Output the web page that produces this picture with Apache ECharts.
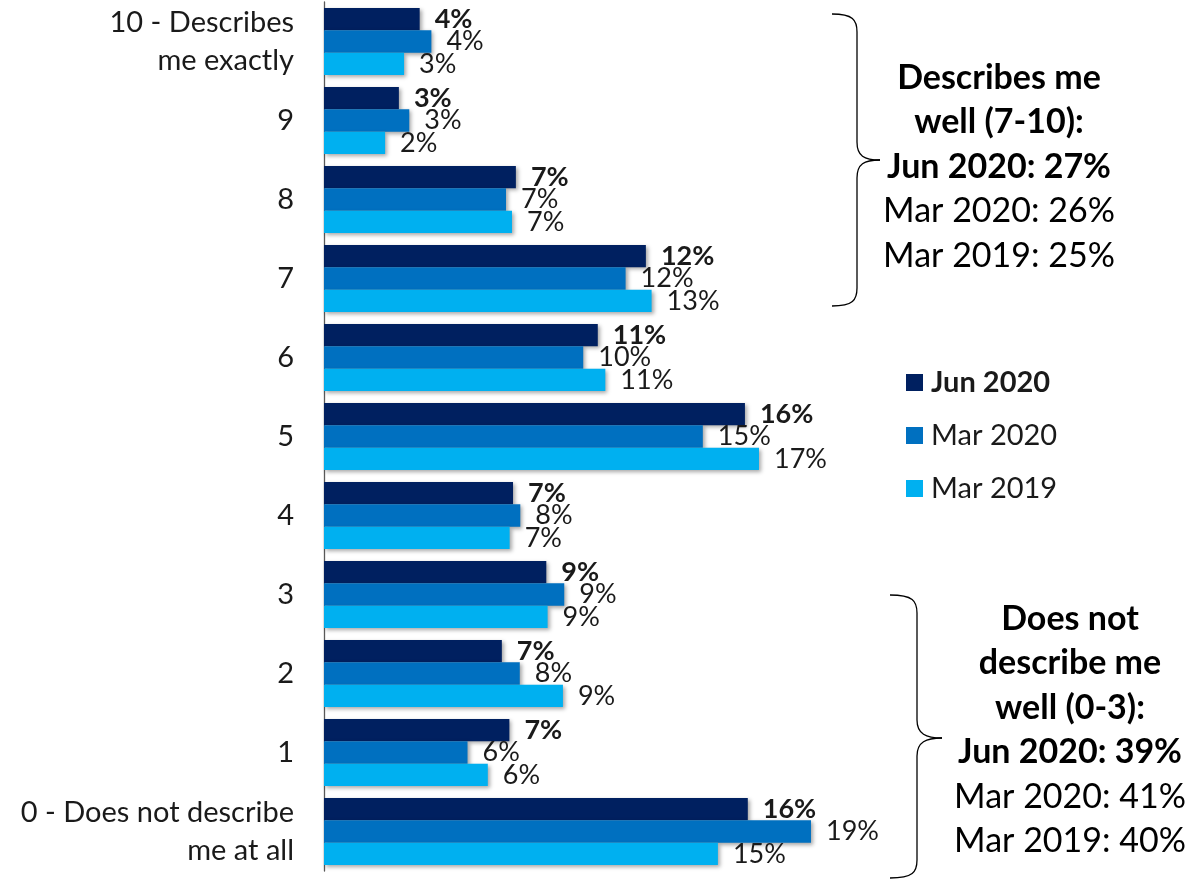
<!DOCTYPE html>
<html>
<head>
<meta charset="utf-8">
<script src="https://cdn.jsdelivr.net/npm/echarts@6/dist/echarts.min.js"></script>
<style>
html,body{margin:0;padding:0;background:#fff;}
#chart{width:1196px;height:881px;}
</style>
</head>
<body>
<div id="chart"></div>
<script>
// categories, top to bottom
const categories = ['10 - Describes\nme exactly','9','8','7','6','5','4','3','2','1','0 - Does not describe\nme at all'];
const seriesNames = ['Jun 2020','Mar 2020','Mar 2019'];
const jun2020 = [3.68, 2.88, 7.38, 12.38, 10.53, 16.19, 7.27, 8.55, 6.84, 7.13, 16.30];
const mar2020 = [4.13, 3.28, 7.00, 11.60, 9.97, 14.57, 7.55, 9.24, 7.53, 5.52, 18.73];
const mar2019 = [3.08, 2.35, 7.23, 12.60, 10.82, 16.73, 7.14, 8.60, 9.19, 6.30, 15.15];
const colors = ['#002060','#0070C0','#00B0F0'];
const topNoteLines = ['Describes me','well (7-10):','Jun 2020: 27%','Mar 2020: 26%','Mar 2019: 25%'];
const bottomNoteLines = ['Does not','describe me','well (0-3):','Jun 2020: 39%','Mar 2020: 41%','Mar 2019: 40%'];
const boldTopCount = 3, boldBottomCount = 4;

const FONT = 'Lato, "Open Sans", sans-serif';
const chart = echarts.init(document.getElementById('chart'));

function mkSeries(name, data, color, bold){
  return {
    name, type:'bar', data,
    barCategoryGap:'15%', barGap:'0%',
    itemStyle:{color, shadowColor:'rgba(0,0,0,0.35)', shadowBlur:4, shadowOffsetX:2, shadowOffsetY:2},
    label:{show:true, position:'right', distance:15,
      formatter:p=>Math.round(p.value)+'%',
      fontFamily:FONT, fontSize:27, fontWeight:bold?'bold':'normal', color:'#1a1a1a'},
    emphasis:{disabled:true}, animation:false
  };
}

function note(lines, nBold){
  return lines.map((l,i)=> (i<nBold?'{b|':'{n|')+l+'}').join('\n');
}
const richNote = {
  b:{fontFamily:FONT, fontSize:34, fontWeight:'bold', color:'#000', lineHeight:44.5},
  n:{fontFamily:FONT, fontSize:34, color:'#000', lineHeight:44.5}
};

function brace(x0, xv, xt, yTop, yTip, yBot, r){
  const s = {stroke:'#000', lineWidth:1.3, fill:null};
  const z = 10;
  return [
    {type:'bezierCurve', shape:{x1:x0,y1:yTop,cpx1:xv-4,cpy1:yTop,cpx2:xv,cpy2:yTop+6,x2:xv,y2:yTop+r}, style:s, z},
    {type:'line', shape:{x1:xv,y1:yTop+r,x2:xv,y2:yTip-r}, style:s, z},
    {type:'bezierCurve', shape:{x1:xv,y1:yTip-r,cpx1:xv,cpy1:yTip-4,cpx2:xt-16,cpy2:yTip,x2:xt,y2:yTip}, style:s, z},
    {type:'bezierCurve', shape:{x1:xt,y1:yTip,cpx1:xt-16,cpy1:yTip,cpx2:xv,cpy2:yTip+4,x2:xv,y2:yTip+r}, style:s, z},
    {type:'line', shape:{x1:xv,y1:yTip+r,x2:xv,y2:yBot-r}, style:s, z},
    {type:'bezierCurve', shape:{x1:xv,y1:yBot-r,cpx1:xv,cpy1:yBot-6,cpx2:xv-4,cpy2:yBot,x2:x0,y2:yBot}, style:s, z}
  ];
}

chart.setOption({
  backgroundColor:'#fff',
  animation:false,
  color:colors,
  grid:{left:324, top:2, width:780, bottom:10, containLabel:false},
  xAxis:{type:'value', min:0, max:30, show:false, splitLine:{show:false}},
  yAxis:{type:'category', data:categories, inverse:true,
    axisLine:{show:true, lineStyle:{color:'#595959', width:1.3}},
    axisTick:{show:false},
    axisLabel:{fontFamily:FONT, fontSize:29, color:'#1a1a1a', margin:30, lineHeight:38, align:'right'}
  },
  legend:{
    orient:'vertical', left:906, top:368, padding:0, itemWidth:17, itemHeight:17, itemGap:24,
    icon:'rect', data:seriesNames,
    formatter:n=> n===seriesNames[0] ? '{b|'+n+'}' : '{n|'+n+'}',
    textStyle:{rich:{
      b:{fontFamily:FONT, fontSize:29, fontWeight:'bold', color:'#1a1a1a', lineHeight:30, padding:[0,0,0,3]},
      n:{fontFamily:FONT, fontSize:29, color:'#1a1a1a', lineHeight:30, padding:[0,0,0,3]}
    }}
  },
  graphic:[
    ...brace(832, 857, 880, 14, 160, 306, 18),
    ...brace(890, 917, 942, 595, 738, 878, 18),
    {type:'text', x:999, y:167, style:{text:note(topNoteLines,boldTopCount), rich:richNote, textAlign:'center', textVerticalAlign:'middle'}},
    {type:'text', x:1070, y:730, style:{text:note(bottomNoteLines,boldBottomCount), rich:richNote, textAlign:'center', textVerticalAlign:'middle'}}
  ],
  series:[
    mkSeries(seriesNames[0], jun2020, colors[0], true),
    mkSeries(seriesNames[1], mar2020, colors[1], false),
    mkSeries(seriesNames[2], mar2019, colors[2], false)
  ]
});
</script>
</body>
</html>
